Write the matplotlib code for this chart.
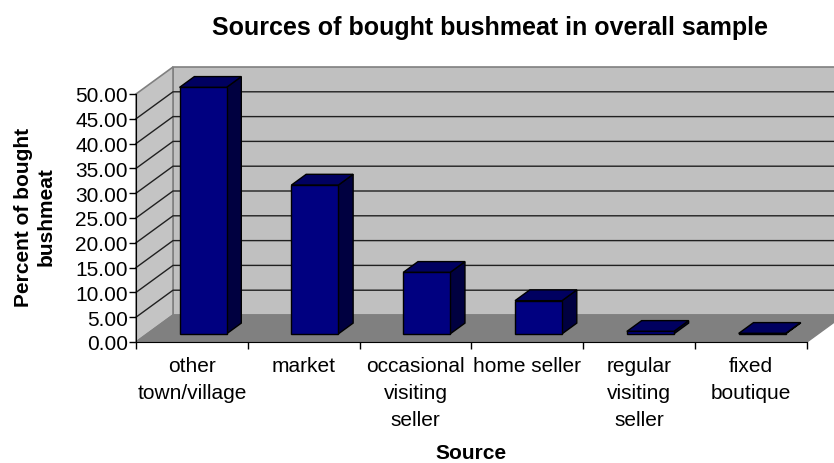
import matplotlib
matplotlib.use("Agg")
import matplotlib.pyplot as plt
from matplotlib.patches import Polygon

plt.rcParams['font.family'] = ['Liberation Sans', 'DejaVu Sans']

categories = ["other\ntown/village", "market", "occasional\nvisiting\nseller",
              "home seller", "regular\nvisiting\nseller", "fixed\nboutique"]
values = [49.7, 30.0, 12.4, 6.7, 0.5, 0.1]
yticks = [0, 5, 10, 15, 20, 25, 30, 35, 40, 45, 50]

W, H = 834, 464
fig = plt.figure(figsize=(W / 100, H / 100), dpi=100)

# front frame in pixels: x 136..807 for 6 categories, y 343 (0) .. 95 (50)
px_cat = (807 - 136) / 6
px_val = (343 - 95) / 50
ax = fig.add_axes([136 / W, (H - 343) / H, (W - 136) / W, (343 - 60) / H])
ax.set_xlim(0, (W - 136) / px_cat)
ax.set_ylim(0, (343 - 60) / px_val)

DX = 37 / px_cat   # depth shift in category units
DY = 27 / px_val   # depth shift in value units
ymax = 50


def P(x, v, d):
    return (x + d * DX, v + d * DY)


def poly(pts, fc, ec, lw=1.0, z=1):
    ax.add_patch(Polygon([P(*p) for p in pts], closed=True, facecolor=fc,
                         edgecolor=ec, linewidth=lw, zorder=z, clip_on=False,
                         joinstyle='miter'))


n = len(categories)
# walls and floor
poly([(0, 0, 1), (n, 0, 1), (n, ymax, 1), (0, ymax, 1)], "#c0c0c0", "#808080", 1.2, 1)
poly([(0, 0, 0), (0, 0, 1), (0, ymax, 1), (0, ymax, 0)], "#c4c4c4", "#808080", 1.2, 1)
poly([(0, 0, 0), (n, 0, 0), (n, 0, 1), (0, 0, 1)], "#808080", "#808080", 1.0, 2)

# gridlines
for v in yticks[1:-1]:
    a, b, c = P(0, v, 0), P(0, v, 1), P(n, v, 1)
    ax.plot([a[0], b[0], c[0]], [a[1], b[1], c[1]], color="#202020",
            lw=1.0, zorder=1.5, clip_on=False)

# bars
w = 0.42
d0, d1 = 0.3, 0.7
for i, v in enumerate(values):
    x0 = i + (1 - w) / 2
    x1 = x0 + w
    poly([(x1, 0, d0), (x1, v, d0), (x1, v, d1), (x1, 0, d1)], "#000040", "black", 1.0, 3)
    poly([(x0, v, d0), (x1, v, d0), (x1, v, d1), (x0, v, d1)], "#000060", "black", 1.0, 3)
    poly([(x0, 0, d0), (x1, 0, d0), (x1, v, d0), (x0, v, d0)], "#000080", "black", 1.0, 4)

# axes lines, ticks and labels
for s in ["top", "right"]:
    ax.spines[s].set_visible(False)
ax.spines["left"].set_bounds(0, ymax)
ax.spines["bottom"].set_bounds(0, n)
ax.spines["left"].set_zorder(5)
ax.spines["bottom"].set_zorder(5)
ax.patch.set_visible(False)

ax.set_yticks(yticks)
ax.set_yticklabels([f"{t:.2f}" for t in yticks], fontsize=15)
ax.tick_params(axis="y", direction="out", length=5, width=1, pad=1)

ax.set_xticks([i + 0.5 for i in range(n)])
ax.set_xticklabels(categories, fontsize=15, linespacing=1.55, va="top")
ax.set_xticks(range(n + 1), minor=True)
ax.tick_params(axis="x", which="major", length=0, pad=10)
ax.tick_params(axis="x", which="minor", direction="out", length=5, width=1)

fig.text(490 / W, 1 - 35 / H, "Sources of bought bushmeat in overall sample",
         ha="center", va="baseline", fontsize=18, fontweight="bold")
fig.text(35 / W, 1 - 217 / H, "Percent of bought\nbushmeat", rotation=90,
         ha="center", va="center", fontsize=15, fontweight="bold", linespacing=1.25)
fig.text(471 / W, 1 - 459 / H, "Source", ha="center", va="baseline",
         fontsize=15, fontweight="bold")

fig.savefig("out.png", dpi=100)
